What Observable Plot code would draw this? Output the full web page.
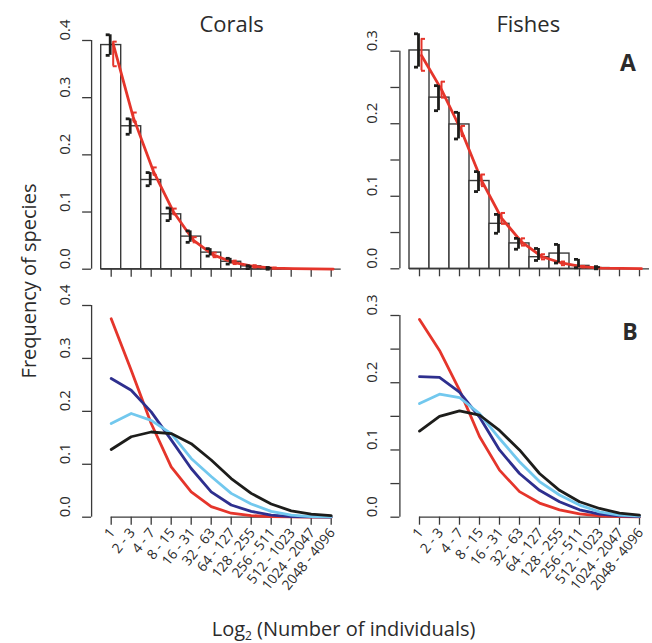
<!DOCTYPE html>
<html><head><meta charset="utf-8">
<script src="https://cdn.jsdelivr.net/npm/d3@7"></script>
<script src="https://cdn.jsdelivr.net/npm/@observablehq/plot@0.6"></script>
<style>
body{margin:0;background:#fff;}
#chart{position:relative;width:652px;height:643px;font-family:"Open Sans",sans-serif;color:#2b2b2b;overflow:hidden;background:#fff}
.panel{position:absolute}
.lbl{position:absolute;white-space:nowrap;line-height:1;color:#2b2b2b}
.lbl sub{font-size:0.6em;line-height:0;vertical-align:-0.3em}
</style></head><body><div id="chart"></div>
<script>
// ---- data ----
const categories = ["1","2 - 3","4 - 7","8 - 15","16 - 31","32 - 63","64 - 127","128 - 255","256 - 511","512 - 1023","1024 - 2047","2048 - 4096"];
const panelTitles = ["Corals","Fishes"];

// Panel A: observed frequencies (bars) with error ranges
const coralObs   = [0.392,0.250,0.156,0.096,0.057,0.029,0.013,0.005,0.001,0,0,0];
const coralObsLo = [0.374,0.236,0.146,0.085,0.047,0.023,0.009,0.001,0.000,null,null,null];
const coralObsHi = [0.410,0.263,0.169,0.107,0.067,0.036,0.019,0.006,0.003,null,null,null];
const coralFit   = [0.394,0.266,0.172,0.101,0.051,0.025,0.012,0.005,0.002,0.001,0.0005,0.0002];
const coralFitLo = [0.355,0.258,0.165,0.096,0.047,0.021,0.009,0.003,0.001,null,null,null];
const coralFitHi = [0.398,0.274,0.178,0.106,0.056,0.029,0.015,0.007,0.003,null,null,null];

const fishObs   = [0.301,0.236,0.199,0.121,0.062,0.035,0.016,0.021,0.004,0.001,0,0];
const fishObsLo = [0.278,0.218,0.179,0.1065,0.049,0.027,0.0115,0.008,0.0014,0.000,null,null];
const fishObsHi = [0.324,0.2525,0.2157,0.134,0.075,0.042,0.028,0.0336,0.013,0.003,null,null];
const fishFit   = [0.294,0.247,0.190,0.122,0.070,0.037,0.017,0.008,0.003,0.001,0.0005,0.0002];
const fishFitLo = [0.273,0.236,0.183,0.114,0.062,0.032,0.013,0.005,0.002,null,null,null];
const fishFitHi = [0.317,0.258,0.197,0.130,0.077,0.042,0.020,0.010,0.004,null,null,null];

// Panel B: model curves
const coralRed   = [0.375,0.2775,0.177,0.095,0.048,0.020,0.0075,0.003,0.001,0.0005,0.0002,0.0001];
const coralNavy  = [0.262,0.240,0.199,0.146,0.092,0.048,0.023,0.011,0.004,0.001,0.0005,0.0002];
const coralLight = [0.177,0.196,0.183,0.158,0.111,0.077,0.045,0.025,0.011,0.004,0.001,0.0005];
const coralBlack = [0.128,0.152,0.161,0.158,0.139,0.108,0.073,0.045,0.025,0.012,0.006,0.003];

const fishRed   = [0.294,0.248,0.189,0.120,0.070,0.038,0.021,0.011,0.005,0.002,0.001,0.0005];
const fishNavy  = [0.209,0.208,0.186,0.149,0.100,0.065,0.040,0.023,0.011,0.0045,0.002,0.001];
const fishLight = [0.169,0.183,0.178,0.154,0.117,0.0825,0.053,0.033,0.018,0.008,0.003,0.0015];
const fishBlack = [0.128,0.150,0.158,0.152,0.129,0.100,0.065,0.040,0.023,0.013,0.006,0.003];

const ticksCorals = [0,0.1,0.2,0.3,0.4];
const ticksFishes = [0,0.05,0.1,0.15,0.2,0.25,0.3];
const labelsCorals = [0,0.1,0.2,0.3,0.4];
const labelsFishes = [0,0.1,0.2,0.3];

// ---- styles ----
const RED = "#e5352b", NAVY = "#2e2f8e", LIGHT = "#72c8ee", BLACK = "#1d1d1b", AX = "#3a3a3a";
const xDomain = [-0.48, categories.length + 0.48];
const centers = categories.map((c, i) => i + 0.5);

const rowsOf = (vals) => vals.map((v, i) => ({x: i + 0.5, v}));

function brackets(lo, hi, off, cap, stroke, sw) {
  const rows = lo.map((l, i) => ({x: i + 0.5, lo: l, hi: hi[i]})).filter(d => d.lo != null);
  const o = {stroke, strokeWidth: sw};
  return [
    Plot.ruleX(rows, {x: d => d.x + off, y1: "lo", y2: "hi", ...o}),
    Plot.ruleY(rows, {y: "lo", x1: d => d.x + off, x2: d => d.x + off + cap, ...o}),
    Plot.ruleY(rows, {y: "hi", x1: d => d.x + off, x2: d => d.x + off + cap, ...o})
  ];
}

function yAxisMarks(ticks, labels, dx) {
  return [
    Plot.ruleX([xDomain[0]], {y1: ticks[0], y2: ticks[ticks.length - 1], stroke: AX, strokeWidth: 1.3}),
    Plot.axisY({ticks, tickSize: 9, tickFormat: () => "", label: null, stroke: AX, strokeWidth: 1.3}),
    Plot.text(labels, {y: d => d, text: d => d.toFixed(1), frameAnchor: "left", dx, rotate: -90,
      fontSize: 15, fill: "#2b2b2b", fontFamily: "Open Sans"})
  ];
}

function makePanel({left, top, width, height, xRange, yDomain, yRange, marks}) {
  const svg = Plot.plot({
    width, height,
    marginLeft: xRange[0],
    marginTop: yRange[1], marginBottom: height - yRange[0], marginRight: 0,
    x: {domain: xDomain, range: xRange},
    y: {domain: yDomain, range: yRange},
    style: {background: "transparent", overflow: "visible"},
    marks
  });
  svg.classList.add("panel");
  svg.style.left = left + "px";
  svg.style.top = top + "px";
  document.getElementById("chart").appendChild(svg);
}

function topMarks(obs, lo, hi, fit, flo, fhi, ticks, labels, dx) {
  const bars = rowsOf(obs);
  return [
    Plot.rect(bars, {x1: d => d.x - 0.5, x2: d => d.x + 0.5, y1: () => 0, y2: "v", fill: "white", stroke: AX, strokeWidth: 1.4}),
    Plot.ruleY([0], {x1: 0, x2: categories.length, stroke: AX, strokeWidth: 1.3}),
    Plot.axisX({ticks: centers, tickSize: 8, tickFormat: () => "", label: null, stroke: AX, strokeWidth: 1.3}),
    ...yAxisMarks(ticks, labels, dx),
    Plot.line(rowsOf(fit), {x: d => d.x + 0.1, y: "v", stroke: RED, strokeWidth: 2.8, strokeLinejoin: "round"}),
    ...brackets(flo, fhi, 0.1, 0.2, RED, 2),
    ...brackets(lo, hi, -0.05, -0.2, BLACK, 2.8)
  ];
}

function bottomMarks(red, navy, light, black, ticks, labels, dx) {
  const L = (vals, stroke) => Plot.line(rowsOf(vals), {x: "x", y: "v", stroke, strokeWidth: 2.8, strokeLinejoin: "round", strokeLinecap: "round"});
  return [
    Plot.ruleY([0], {x1: centers[0], x2: centers[centers.length - 1], stroke: AX, strokeWidth: 1.3}),
    Plot.axisX({ticks: centers, tickSize: 8, tickFormat: () => "", label: null, stroke: AX, strokeWidth: 1.3}),
    Plot.text(categories, {x: (d, i) => i + 0.5, y: () => 0, text: d => d, rotate: -51, textAnchor: "end",
      lineAnchor: "middle", dx: 1, dy: 13, fontSize: 13.8, fill: "#2b2b2b", fontFamily: "Open Sans"}),
    ...yAxisMarks(ticks, labels, dx),
    L(red, RED), L(navy, NAVY), L(light, LIGHT), L(black, BLACK)
  ];
}

const LW = 356, RW = 296, TH = 290, BH = 353;
makePanel({left: 0, top: 0, width: LW, height: TH, xRange: [91.1, 350.3], yDomain: [0, 0.4], yRange: [268.7, 40],
  marks: topMarks(coralObs, coralObsLo, coralObsHi, coralFit, coralFitLo, coralFitHi, ticksCorals, labelsCorals, -26)});
makePanel({left: LW, top: 0, width: RW, height: TH, xRange: [43.4, 302.6], yDomain: [0, 0.3], yRange: [268.3, 50.7],
  marks: topMarks(fishObs, fishObsLo, fishObsHi, fishFit, fishFitLo, fishFitHi, ticksFishes, labelsFishes, -28)});
makePanel({left: 0, top: TH, width: LW, height: BH, xRange: [91.1, 350.3], yDomain: [0, 0.4], yRange: [226.7, 15],
  marks: bottomMarks(coralRed, coralNavy, coralLight, coralBlack, ticksCorals, labelsCorals, -26)});
makePanel({left: LW, top: TH, width: RW, height: BH, xRange: [43.4, 302.6], yDomain: [0, 0.3], yRange: [226.7, 25],
  marks: bottomMarks(fishRed, fishNavy, fishLight, fishBlack, ticksFishes, labelsFishes, -28)});

// ---- text labels ----
function label(html, css) {
  const d = document.createElement("div");
  d.className = "lbl";
  d.innerHTML = html;
  Object.assign(d.style, css);
  document.getElementById("chart").appendChild(d);
}
label(panelTitles[0], {left: "231.7px", top: "11.5px", fontSize: "22px", transform: "translateX(-50%)"});
label(panelTitles[1], {left: "528.3px", top: "11.5px", fontSize: "22px", transform: "translateX(-50%)"});
label("A", {left: "628px", top: "51px", fontSize: "23px", fontWeight: "700", transform: "translateX(-50%)"});
label("B", {left: "630px", top: "319.5px", fontSize: "23px", fontWeight: "700", transform: "translateX(-50%)"});
label("Frequency of species", {left: "29px", top: "281px", fontSize: "20px", transform: "translate(-50%,-50%) rotate(-90deg)"});
label("Log<sub>2</sub> (Number of individuals)", {left: "211.7px", top: "619px", fontSize: "20px"});
</script>
</body></html>
